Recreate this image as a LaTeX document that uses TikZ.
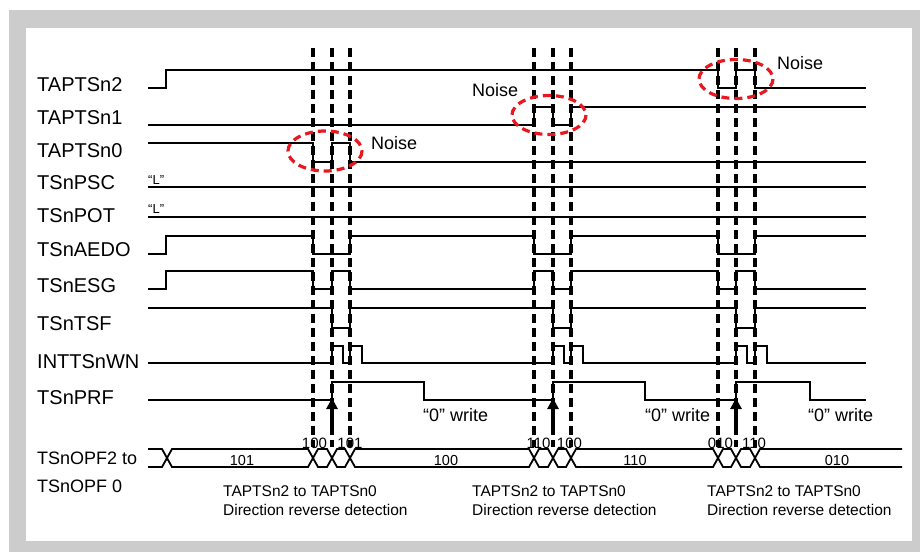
\documentclass[tikz,border=0pt]{standalone}
\usepackage{fontspec}
\setmainfont{Liberation Sans}
\usetikzlibrary{arrows.meta}
\definecolor{framegray}{RGB}{204,204,204}
\definecolor{noisered}{RGB}{232,24,32}
\begin{document}
\begin{tikzpicture}[x=1pt,y=-1pt,
  sig/.style={line width=1.8pt,black,line join=miter},
  guide/.style={line width=3.4pt,black,dash pattern=on 9pt off 5pt},
  noise/.style={line width=3.2pt,noisered,dash pattern=on 8pt off 5pt},
  lbl/.style={font=\fontsize{20}{24}\selectfont,anchor=base west,inner sep=0pt},
  lblb/.style={font=\fontsize{18}{22}\selectfont,anchor=base west,inner sep=0pt},
  noisetxt/.style={font=\fontsize{18}{22}\selectfont,anchor=base west,inner sep=0pt},
  wtxt/.style={font=\fontsize{18}{22}\selectfont,anchor=base west,inner sep=0pt},
  busval/.style={font=\fontsize{14.5}{17}\selectfont,anchor=base,inner sep=0pt},
  crossval/.style={font=\fontsize{15}{18}\selectfont,anchor=base,inner sep=0pt},
  captxt/.style={font=\fontsize{15.5}{19}\selectfont,anchor=base west,inner sep=0pt},
  lowtxt/.style={font=\fontsize{13}{15}\selectfont,anchor=base west,inner sep=0pt},
  uparrow/.style={line width=3.4pt,-{Triangle[width=11pt,length=11pt]}}
]
\useasboundingbox (0,0) rectangle (920,552);
\fill[framegray] (9,10) rectangle (920,552);
\fill[white] (26,28) rectangle (912,541);

% signals
\draw[sig] (148,88) -- (166,88) -- (166,70) -- (718,70) -- (718,88) -- (736,88) -- (736,70) -- (755,70) -- (755,88) -- (866,88);
\draw[sig] (148,125) -- (534,125) -- (534,107) -- (553,107) -- (553,125) -- (571,125) -- (571,107) -- (866,107);
\draw[sig] (148,143) -- (313,143) -- (313,162) -- (332,162) -- (332,143) -- (350,143) -- (350,162) -- (866,162);
\draw[sig] (148,187) -- (866,187);
\draw[sig] (148,217) -- (866,217);
\draw[sig] (148,254) -- (166,254) -- (166,236) -- (313,236) -- (313,254) -- (350,254) -- (350,236) -- (534,236) -- (534,254) -- (571,254) -- (571,236) -- (718,236) -- (718,254) -- (755,254) -- (755,236) -- (866,236);
\draw[sig] (148,289) -- (166,289) -- (166,271) -- (313,271) -- (313,289) -- (332,289) -- (332,271) -- (350,271) -- (350,289) -- (534,289) -- (534,271) -- (553,271) -- (553,289) -- (571,289) -- (571,271) -- (718,271) -- (718,289) -- (736,289) -- (736,271) -- (755,271) -- (755,289) -- (866,289);
\draw[sig] (148,308) -- (332,308) -- (332,328) -- (350,328) -- (350,308) -- (553,308) -- (553,328) -- (571,328) -- (571,308) -- (736,308) -- (736,328) -- (755,328) -- (755,308) -- (866,308);
\draw[sig] (148,363) -- (332,363) -- (332,346) -- (343,346) -- (343,363) -- (350,363) -- (350,346) -- (362,346) -- (362,363)
  -- (553,363) -- (553,346) -- (564,346) -- (564,363) -- (571,363) -- (571,346) -- (583,346) -- (583,363)
  -- (736,363) -- (736,346) -- (747,346) -- (747,363) -- (755,363) -- (755,346) -- (767,346) -- (767,363) -- (866,363);
\draw[sig] (148,400) -- (332,400) -- (332,382) -- (424,382) -- (424,400) -- (553,400) -- (553,382) -- (645,382) -- (645,400) -- (736,400) -- (736,382) -- (810,382) -- (810,400) -- (866,400);

% bus
\draw[sig] (148,449) -- (162,449) -- (172,467) -- (308,467) -- (318,449) -- (327,449) -- (337,467) -- (345,467) -- (355,449)
  -- (529,449) -- (539,467) -- (548,467) -- (558,449) -- (566,449) -- (576,467) -- (713,467) -- (723,449) -- (731,449) -- (741,467) -- (750,467) -- (760,449) -- (902,449);
\draw[sig] (148,467) -- (162,467) -- (172,449) -- (308,449) -- (318,467) -- (327,467) -- (337,449) -- (345,449) -- (355,467)
  -- (529,467) -- (539,449) -- (548,449) -- (558,467) -- (566,467) -- (576,449) -- (713,449) -- (723,467) -- (731,467) -- (741,449) -- (750,449) -- (760,467) -- (902,467);

% guide lines
\foreach \gx in {313,332,350,534,553,571,718,736,755}
  \draw[guide] (\gx,48) -- (\gx,447);

% noise ellipses
\draw[noise] (325,151) ellipse [x radius=37, y radius=20];
\draw[noise] (549,115) ellipse [x radius=37, y radius=19.5];
\draw[noise] (736,79) ellipse [x radius=37, y radius=19.5];

% arrows
\coordinate (a1s) at (332,426); \coordinate (a1e) at (332,398);
\coordinate (a2s) at (553,426); \coordinate (a2e) at (553,398);
\coordinate (a3s) at (736,426); \coordinate (a3e) at (736,398);
\draw[uparrow] (a1s) -- (a1e);
\draw[uparrow] (a2s) -- (a2e);
\draw[uparrow] (a3s) -- (a3e);

% left labels
\node[lbl] (l1) at (37,91) {TAPTSn2};
\node[lbl] (l2) at (37,124) {TAPTSn1};
\node[lbl] (l3) at (37,157) {TAPTSn0};
\node[lbl] (l4) at (37,189) {TSnPSC};
\node[lbl] (l5) at (37,222) {TSnPOT};
\node[lbl] (l6) at (37,256) {TSnAEDO};
\node[lbl] (l7) at (37,292) {TSnESG};
\node[lbl] (l8) at (37,330) {TSnTSF};
\node[lbl] (l9) at (37,368) {INTTSnWN};
\node[lbl] (l10) at (37,404) {TSnPRF};
\node[lblb] (l11) at (37,464) {TSnOPF2 to};
\node[lblb] (l12) at (37,492) {TSnOPF 0};

\node[lowtxt] (lL1) at (148,184) {“L”};
\node[lowtxt] (lL2) at (148,213) {“L”};

% noise labels
\node[noisetxt] (n1) at (371,149) {Noise};
\node[noisetxt] (n2) at (472,96) {Noise};
\node[noisetxt] (n3) at (777,69) {Noise};

% write labels
\node[wtxt] (w1) at (423,421) {“0” write};
\node[wtxt] (w2) at (645,421) {“0” write};
\node[wtxt] (w3) at (808,421) {“0” write};

% bus values
\node[busval] (b1) at (242,465) {101};
\node[busval] (b2) at (446,465) {100};
\node[busval] (b3) at (635,465) {110};
\node[busval] (b4) at (837,465) {010};

% crossing values
\node[crossval] (c1) at (314.5,448) {100};
\node[crossval] (c2) at (350,448) {101};
\node[crossval] (c3) at (538.5,448) {110};
\node[crossval] (c4) at (569.5,448) {100};
\node[crossval] (c5) at (720.5,448) {010};
\node[crossval] (c6) at (754,448) {110};

% captions
\node[captxt] (t1) at (223,496) {TAPTSn2 to TAPTSn0};
\node[captxt] (d1) at (223,515) {Direction reverse detection};
\node[captxt] (t2) at (472,496) {TAPTSn2 to TAPTSn0};
\node[captxt] (d2) at (472,515) {Direction reverse detection};
\node[captxt] (t3) at (707,496) {TAPTSn2 to TAPTSn0};
\node[captxt] (d3) at (707,515) {Direction reverse detection};
\end{tikzpicture}
\end{document}
